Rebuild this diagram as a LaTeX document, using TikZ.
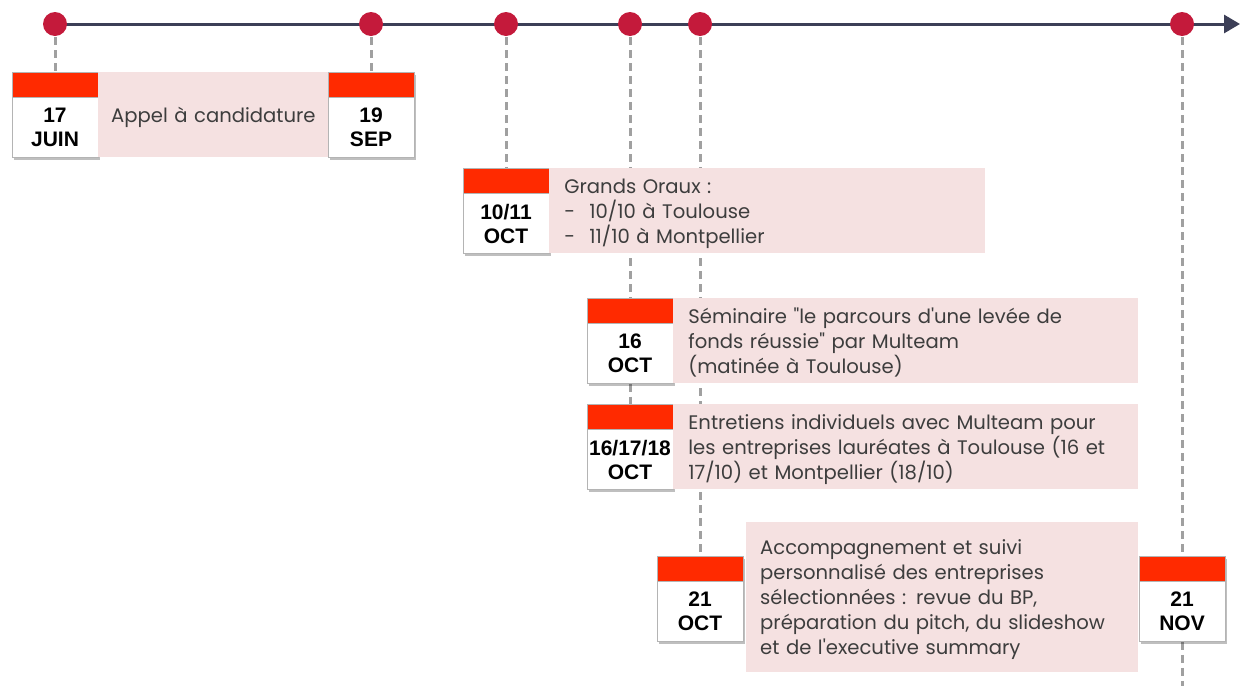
\documentclass[tikz,border=0pt]{standalone}
\usepackage{fontspec}
\setmainfont{Poppins}[Ligatures=TeXOff]
\newfontfamily\datefont{Liberation Sans}
\usetikzlibrary{positioning,shadows,arrows.meta,backgrounds}

\definecolor{axisgray}{HTML}{3C3F57}
\definecolor{dotred}{HTML}{C41A3B}
\definecolor{calred}{HTML}{FF2A00}
\definecolor{calborder}{HTML}{B4B4B4}
\definecolor{pinkbg}{HTML}{F5E1E1}
\definecolor{guidegray}{HTML}{A0A0A0}
\definecolor{textgray}{HTML}{3D3D3D}

\begin{document}
\begin{tikzpicture}[x=1pt,y=-1pt,
    dot/.style={circle,fill=dotred,minimum size=24pt,inner sep=0pt},
    calshadow/.style={drop shadow={shadow xshift=1.5pt,shadow yshift=-2.5pt,fill=black,opacity=0.25}},
    calhead/.style={rectangle,fill=calred,draw=calborder,minimum width=86pt,minimum height=25pt,inner sep=0pt,anchor=north,calshadow},
    calbody/.style={rectangle,fill=white,draw=calborder,minimum width=86pt,minimum height=60pt,inner sep=0pt,align=center,calshadow,
      font=\datefont\bfseries\fontsize{21}{24}\selectfont},
    infobox/.style={rectangle,fill=pinkbg,anchor=north west,inner xsep=15pt,inner ysep=0pt,text=textgray,
      font=\fontsize{19.6}{25}\selectfont,execute at begin node={\rule{0pt}{20pt}}},
    timeline/.style={line width=3pt,draw=axisgray,-{Triangle[length=16pt,width=18pt]}},
    guide/.style={line width=3pt,draw=guidegray,dash pattern=on 8pt off 5pt}
  ]
  \useasboundingbox (0,0) rectangle (1243,686);

  % dates on the axis
  \node[dot] (d1) at (55,24) {};
  \node[dot] (d2) at (371,24) {};
  \node[dot] (d3) at (506,24) {};
  \node[dot] (d4) at (630,24) {};
  \node[dot] (d5) at (700,24) {};
  \node[dot] (d6) at (1182,24) {};
  \coordinate (tip) at (1240,24);
  \coordinate (tail) at (1182,686);

  % calendars
  \node[calhead] (h1) at (55,72) {};
  \node[calbody,below=0pt of h1] (b1) {17\\JUIN};
  \node[calhead] (h2) at (371,72) {};
  \node[calbody,below=0pt of h2] (b2) {19\\SEP};
  \node[calhead] (h3) at (506,168) {};
  \node[calbody,below=0pt of h3] (b3) {10/11\\OCT};
  \node[calhead] (h4) at (630,298) {};
  \node[calbody,below=0pt of h4] (b4) {16\\OCT};
  \node[calhead] (h5) at (630,404) {};
  \node[calbody,below=0pt of h5] (b5) {16/17/18\\OCT};
  \node[calhead] (h6) at (700,556) {};
  \node[calbody,below=0pt of h6] (b6) {21\\OCT};
  \node[calhead] (h7) at (1182,556) {};
  \node[calbody,below=0pt of h7] (b7) {21\\NOV};

  % events
  \node[infobox,inner xsep=3pt,text width=224pt,minimum height=85pt,align=center] (appel) at (h1.north east) {Appel à candidature};
  \node[infobox,text width=406pt,minimum height=85pt,align=left] (oraux) at (h3.north east)
    {Grands Oraux :\\\makebox[25pt][l]{-}10/10 à Toulouse\\\makebox[25pt][l]{-}11/10 à Montpellier};
  \node[infobox,text width=435pt,minimum height=85pt,align=left] (seminaire) at (h4.north east)
    {Séminaire "le parcours d'une levée de\\fonds réussie" par Multeam\\(matinée à Toulouse)};
  \node[infobox,text width=435pt,minimum height=85pt,align=left] (entretiens) at (h5.north east)
    {Entretiens individuels avec Multeam pour\\les entreprises lauréates à Toulouse (16 et\\17/10) et Montpellier (18/10)};
  \node[infobox,inner xsep=14pt,text width=364pt,minimum height=150pt,align=left] (suivi) at (746,522)
    {Accompagnement et suivi\\personnalisé des entreprises\\sélectionnées : revue du BP,\\préparation du pitch, du slideshow\\et de l'executive summary};

  \begin{pgfonlayer}{background}
    \fill[white] (0,0) rectangle (1243,686);
    \draw[timeline] (d1.center) -- (tip);
    \draw[guide] (d1.center) -- (h1.north);
    \draw[guide] (d2.center) -- (h2.north);
    \draw[guide] (d3.center) -- (h3.north);
    \draw[guide] (d4.center) -- (h4.north);
    \draw[guide] (b4.south) -- (h5.north);
    \draw[guide] (d5.center) -- (h6.north);
    \draw[guide] (d6.center) -- (h7.north);
    \draw[guide] (b7.south) -- (tail);
  \end{pgfonlayer}
\end{tikzpicture}
\end{document}
